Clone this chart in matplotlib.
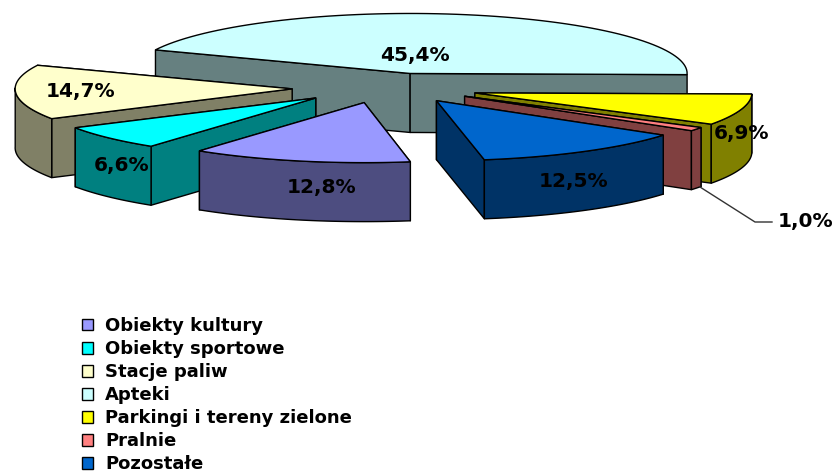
import numpy as np
import matplotlib
matplotlib.use("Agg")
import matplotlib.pyplot as plt
from matplotlib.colors import to_rgb
from matplotlib.patches import Patch, Polygon

# values in legend order
categories = ["Obiekty kultury", "Obiekty sportowe", "Stacje paliw", "Apteki",
              "Parkingi i tereny zielone", "Pralnie", "Pozostałe"]
values = [12.8, 6.6, 14.7, 45.4, 6.9, 1.0, 12.5]
labels = ["12,8%", "6,6%", "14,7%", "45,4%", "6,9%", "1,0%", "12,5%"]
colors = ["#9999FF", "#00FFFF", "#FFFFCC", "#CCFFFF", "#FFFF00", "#FF8080", "#0066CC"]

# pie geometry, in pixels of the picture
CX, CY = 386, 88
RX, RY = 277, 60
DEPTH = 59
EXPLODE = 94
EXPLODE_Y = 0.16  # vertical squash of the explosion
START = -80.4  # angle where the first slice (kultury) starts, going clockwise

label_pos = [(322, 188), (122, 166), (81, 91), (415, 55), (742, 133), (806, 222), (574, 181)]
draw_order = [3, 4, 5, 6, 2, 1, 0]


def dark(color):
    return tuple(c * 0.5 for c in to_rgb(color))


def project(angle):
    a = np.radians(angle)
    return np.column_stack([RX * np.cos(a), -RY * np.sin(a)])


def warp(angle):
    # the perspective of the original pulls the rim up near the right edge
    wrapped = (angle + 180) % 360 - 180
    return angle + 6 * np.exp(-((wrapped + 3) / 12) ** 2)


fig = plt.figure(figsize=(8.37, 4.72), dpi=100)
ax = fig.add_axes([0, 0, 1, 1])
ax.set_xlim(0, 837)
ax.set_ylim(472, 0)
ax.axis("off")

# slice angles
edges = START - np.cumsum([0] + values) * 3.6

for i in draw_order:
    a0, a1 = edges[i], edges[i + 1]
    mid = np.radians((a0 + a1) / 2)
    tip = np.array([CX + EXPLODE * np.cos(mid), CY - EXPLODE * EXPLODE_Y * np.sin(mid)])
    arc_angles = warp(np.linspace(a0, a1, 80))
    arc = tip + project(arc_angles)
    down = np.array([0, DEPTH])
    side = dark(colors[i])

    # radial walls, the one further back first
    walls = [arc[0], arc[-1]]
    walls.sort(key=lambda p: p[1])
    for p in walls:
        ax.add_patch(Polygon([tip, p, p + down, tip + down], closed=True,
                             fc=side, ec="black", lw=1.0, joinstyle="round"))

    # outer wall, only the part of the rim facing us
    front = arc[np.sin(np.radians(arc_angles)) < 0.02]
    if len(front) > 1:
        ax.add_patch(Polygon(np.vstack([front, (front + down)[::-1]]), closed=True,
                             fc=side, ec="black", lw=1.0))

    ax.add_patch(Polygon(np.vstack([tip, arc]), closed=True,
                         fc=colors[i], ec="black", lw=1.0))

# leader line of the small slice
ax.plot([700, 755, 772], [187, 222, 222], color="#333333", lw=1.0)

for text, (x, y) in zip(labels, label_pos):
    ax.text(x, y, text, ha="center", va="center", fontsize=14.5,
            fontweight="bold", family="DejaVu Sans", color="black")

handles = [Patch(fc=c, ec="black", lw=1.0) for c in colors]
ax.legend(handles, categories, loc="upper left", bbox_to_anchor=(82 / 837, 1 - 317 / 472),
          borderaxespad=0, borderpad=0, frameon=False, handlelength=0.62, handleheight=0.62,
          handletextpad=0.65, labelspacing=0.28,
          prop={"family": "DejaVu Sans", "weight": "bold", "size": 13})

fig.savefig("out.png", dpi=100)
